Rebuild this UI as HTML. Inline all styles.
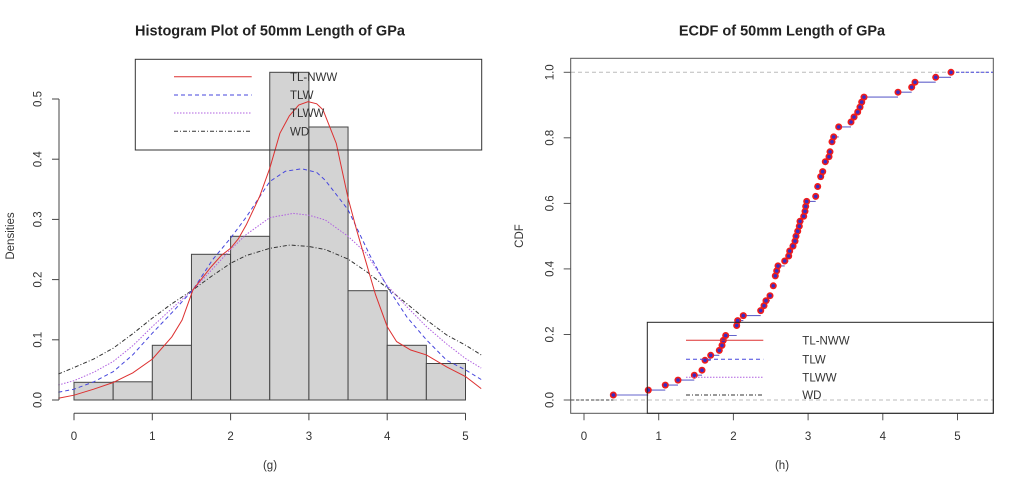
<!DOCTYPE html>
<html><head><meta charset="utf-8"><style>
html,body{margin:0;padding:0;background:#fff;}
svg{display:block;font-family:"Liberation Sans",sans-serif;}
</style></head><body>
<svg width="1024" height="487" viewBox="0 0 1024 487" xmlns="http://www.w3.org/2000/svg">
<rect width="1024" height="487" fill="#fff"/>
<!-- ========== LEFT PLOT ========== -->
<text x="270" y="35.5" font-size="14.5" font-weight="bold" text-anchor="middle" fill="#222">Histogram Plot of 50mm Length of GPa</text>
<!-- bars -->
<g fill="#d3d3d3" stroke="#444" stroke-width="1">
<rect x="74" y="382.3" width="39.15" height="17.7"/>
<rect x="113.15" y="381.8" width="39.15" height="18.2"/>
<rect x="152.3" y="345.3" width="39.15" height="54.7"/>
<rect x="191.45" y="254.3" width="39.15" height="145.7"/>
<rect x="230.6" y="236.3" width="39.15" height="163.7"/>
<rect x="269.75" y="72.3" width="39.15" height="327.7"/>
<rect x="308.9" y="127" width="39.15" height="273"/>
<rect x="348.05" y="290.7" width="39.15" height="109.3"/>
<rect x="387.2" y="345.3" width="39.15" height="54.7"/>
<rect x="426.35" y="363.5" width="39.15" height="36.5"/>
</g>
<!-- curves -->
<polyline fill="none" stroke="#333" stroke-width="1" stroke-dasharray="4 2 1 2" points="58.3,374.1 74,367.5 93.6,359.1 113.2,348.2 132.7,333.8 152.3,318.1 171.9,303.7 193,289.8 211,276.6 230.6,263.3 246.3,255.5 269.8,248.3 290.1,245 308.9,246.5 325.3,249.5 348.1,259.1 367.6,272.4 387.2,288 406.8,303.7 426.4,319.9 446.7,335 465.5,345.2 481.2,354.9"/>
<polyline fill="none" stroke="#b060e0" stroke-width="1" stroke-dasharray="1.5 1.5" points="58.3,385 74,380.7 93.6,372.3 113.2,361.5 132.7,345.8 152.3,326.6 171.9,308.5 193,289.8 211,270.6 230.6,249.5 246.3,234.5 269.8,217.6 293.2,213.4 308.9,215.2 325.3,220 348.1,236.3 366.1,253.1 387.2,285.6 406.8,306.7 426.4,326.6 446.7,344 465.5,358.5 481.2,368.1"/>
<polyline fill="none" stroke="#4646dd" stroke-width="1" stroke-dasharray="4 3" points="58.3,392.3 74,389.2 93.6,381.9 113.2,371.7 132.7,354.9 152.3,333.2 171.9,312.7 193,289.8 212.6,259.7 230.6,238.1 246.3,217 269.8,181.5 285.4,171.2 301.9,168.8 316.7,172.4 325.3,180.3 348.1,209.8 370,255.5 387.2,286.8 406.8,316.9 426.4,339.8 446.7,360.3 465.5,369.9 481.2,379.5"/>
<polyline fill="none" stroke="#dd3030" stroke-width="1" points="58.3,398.2 74,395.2 93.6,389.2 113.2,382.5 132.7,372.9 152.3,359.1 171.9,336.8 182.1,320 193,289.8 211,267 221.2,255.5 230.6,248.3 238.4,238.7 246.3,224.8 259.6,196.5 269.8,168.2 279.9,133.3 289.3,115.9 298.7,105 308.1,101.7 316.7,103.8 323,109.8 336.3,143.5 348.1,198.3 356.7,230.2 365.3,259.7 375.5,294.6 387.2,326.6 396.6,341.6 410.7,350 426.4,354.9 446.7,366.9 465.5,376.5 481.2,388.6"/>
<!-- axes -->
<g stroke="#444" stroke-width="1" fill="none">
<line x1="59" y1="99" x2="59" y2="400"/>
<line x1="52" y1="400" x2="59" y2="400"/>
<line x1="52" y1="339.8" x2="59" y2="339.8"/>
<line x1="52" y1="279.6" x2="59" y2="279.6"/>
<line x1="52" y1="219.4" x2="59" y2="219.4"/>
<line x1="52" y1="159.2" x2="59" y2="159.2"/>
<line x1="52" y1="99" x2="59" y2="99"/>
<line x1="74" y1="413.3" x2="465.5" y2="413.3"/>
<line x1="74" y1="413.3" x2="74" y2="420.3"/>
<line x1="152.3" y1="413.3" x2="152.3" y2="420.3"/>
<line x1="230.6" y1="413.3" x2="230.6" y2="420.3"/>
<line x1="308.9" y1="413.3" x2="308.9" y2="420.3"/>
<line x1="387.2" y1="413.3" x2="387.2" y2="420.3"/>
<line x1="465.5" y1="413.3" x2="465.5" y2="420.3"/>
</g>
<g font-size="11.5" fill="#333" text-anchor="middle">
<text x="74" y="440">0</text>
<text x="152.3" y="440">1</text>
<text x="230.6" y="440">2</text>
<text x="308.9" y="440">3</text>
<text x="387.2" y="440">4</text>
<text x="465.5" y="440">5</text>
<text transform="translate(41.5,400) rotate(-90)">0.0</text>
<text transform="translate(41.5,339.8) rotate(-90)">0.1</text>
<text transform="translate(41.5,279.6) rotate(-90)">0.2</text>
<text transform="translate(41.5,219.4) rotate(-90)">0.3</text>
<text transform="translate(41.5,159.2) rotate(-90)">0.4</text>
<text transform="translate(41.5,99) rotate(-90)">0.5</text>
<text x="270" y="469">(g)</text>
<text transform="translate(14,236) rotate(-90)">Densities</text>
</g>
<!-- legend left -->
<rect x="135.3" y="59.3" width="346.4" height="90.7" fill="none" stroke="#333" stroke-width="1"/>
<line x1="174" y1="76.7" x2="251.7" y2="76.7" stroke="#dd3030" stroke-width="1"/>
<line x1="174" y1="95" x2="251.7" y2="95" stroke="#4646dd" stroke-width="1" stroke-dasharray="4 3"/>
<line x1="174" y1="113" x2="251.7" y2="113" stroke="#b060e0" stroke-width="1" stroke-dasharray="1.5 1.5"/>
<line x1="174" y1="131.3" x2="251.7" y2="131.3" stroke="#333" stroke-width="1" stroke-dasharray="4 2 1 2"/>
<g font-size="11.5" fill="#333">
<text x="290" y="80.8">TL-NWW</text>
<text x="290" y="99.1">TLW</text>
<text x="290" y="117.1">TLWW</text>
<text x="290" y="135.4">WD</text>
</g>

<!-- ========== RIGHT PLOT ========== -->
<text x="782" y="35.5" font-size="14.5" font-weight="bold" text-anchor="middle" fill="#222">ECDF of 50mm Length of GPa</text>
<!-- reference lines -->
<line x1="571" y1="400" x2="993" y2="400" stroke="#bbb" stroke-width="1" stroke-dasharray="4 3"/>
<line x1="571" y1="72.3" x2="993" y2="72.3" stroke="#bbb" stroke-width="1" stroke-dasharray="4 3"/>
<line x1="571" y1="400" x2="613.3" y2="400" stroke="#444" stroke-width="1" stroke-dasharray="3 2"/>
<line x1="951" y1="72.3" x2="993" y2="72.3" stroke="#4646dd" stroke-width="1" stroke-dasharray="3 2"/>
<path fill="none" stroke="#6464cc" stroke-width="1.1" d="M613.3 395 H648.3 M648.3 390.1 H665.3 M665.3 385.1 H678 M678 380.1 H694.3 M694.3 375.2 H702 M702 370.2 H705 M705 360.3 H710.7 M710.7 355.3 H719.3 M719.3 350.4 H722 M722 345.4 H723.3 M723.3 340.4 H725.7 M725.7 335.5 H736.7 M736.7 325.5 H737.7 M737.7 320.6 H743.3 M743.3 315.6 H760.7 M760.7 310.6 H764 M764 305.7 H766 M766 300.7 H770 M770 295.7 H773.3 M773.3 285.8 H775.3 M775.3 275.9 H776.7 M776.7 270.9 H778 M778 265.9 H784.7 M784.7 261 H788.7 M788.7 256 H789.7 M789.7 251 H793 M793 246.1 H795 M795 241.1 H796 M796 236.2 H797.7 M797.7 231.2 H799.3 M799.3 226.2 H800 M800 221.3 H803.7 M803.7 216.3 H805 M805 211.3 H805.7 M805.7 206.4 H806.7 M806.7 201.4 H815.7 M815.7 196.4 H817.7 M817.7 186.5 H820.7 M820.7 176.6 H822.7 M822.7 171.6 H825.3 M825.3 161.7 H829 M829 156.7 H830 M830 151.8 H832 M832 141.8 H833.7 M833.7 136.9 H838.7 M838.7 126.9 H851 M851 122 H854 M854 117 H857.7 M857.7 112 H860 M860 107.1 H861.7 M861.7 102.1 H864 M864 97.1 H898 M898 92.2 H911.7 M911.7 87.2 H915 M915 82.2 H935.7 M935.7 77.3 H951"/>
<g fill="#ee1c1c">
<circle cx="613.3" cy="395" r="3.5"/><circle cx="648.3" cy="390.1" r="3.5"/><circle cx="665.3" cy="385.1" r="3.5"/><circle cx="678" cy="380.1" r="3.5"/><circle cx="694.3" cy="375.2" r="3.5"/><circle cx="702" cy="370.2" r="3.5"/><circle cx="705" cy="360.3" r="3.5"/><circle cx="710.7" cy="355.3" r="3.5"/><circle cx="719.3" cy="350.4" r="3.5"/><circle cx="722" cy="345.4" r="3.5"/><circle cx="723.3" cy="340.4" r="3.5"/><circle cx="725.7" cy="335.5" r="3.5"/><circle cx="736.7" cy="325.5" r="3.5"/><circle cx="737.7" cy="320.6" r="3.5"/><circle cx="743.3" cy="315.6" r="3.5"/><circle cx="760.7" cy="310.6" r="3.5"/><circle cx="764" cy="305.7" r="3.5"/><circle cx="766" cy="300.7" r="3.5"/><circle cx="770" cy="295.7" r="3.5"/><circle cx="773.3" cy="285.8" r="3.5"/><circle cx="775.3" cy="275.9" r="3.5"/><circle cx="776.7" cy="270.9" r="3.5"/><circle cx="778" cy="265.9" r="3.5"/><circle cx="784.7" cy="261" r="3.5"/><circle cx="788.7" cy="256" r="3.5"/><circle cx="789.7" cy="251" r="3.5"/><circle cx="793" cy="246.1" r="3.5"/><circle cx="795" cy="241.1" r="3.5"/><circle cx="796" cy="236.2" r="3.5"/><circle cx="797.7" cy="231.2" r="3.5"/><circle cx="799.3" cy="226.2" r="3.5"/><circle cx="800" cy="221.3" r="3.5"/><circle cx="803.7" cy="216.3" r="3.5"/><circle cx="805" cy="211.3" r="3.5"/><circle cx="805.7" cy="206.4" r="3.5"/><circle cx="806.7" cy="201.4" r="3.5"/><circle cx="815.7" cy="196.4" r="3.5"/><circle cx="817.7" cy="186.5" r="3.5"/><circle cx="820.7" cy="176.6" r="3.5"/><circle cx="822.7" cy="171.6" r="3.5"/><circle cx="825.3" cy="161.7" r="3.5"/><circle cx="829" cy="156.7" r="3.5"/><circle cx="830" cy="151.8" r="3.5"/><circle cx="832" cy="141.8" r="3.5"/><circle cx="833.7" cy="136.9" r="3.5"/><circle cx="838.7" cy="126.9" r="3.5"/><circle cx="851" cy="122" r="3.5"/><circle cx="854" cy="117" r="3.5"/><circle cx="857.7" cy="112" r="3.5"/><circle cx="860" cy="107.1" r="3.5"/><circle cx="861.7" cy="102.1" r="3.5"/><circle cx="864" cy="97.1" r="3.5"/><circle cx="898" cy="92.2" r="3.5"/><circle cx="911.7" cy="87.2" r="3.5"/><circle cx="915" cy="82.2" r="3.5"/><circle cx="935.7" cy="77.3" r="3.5"/><circle cx="951" cy="72.3" r="3.5"/>
</g>
<g fill="#3a2cc4">
<circle cx="613.3" cy="395" r="1.8"/><circle cx="648.3" cy="390.1" r="1.8"/><circle cx="665.3" cy="385.1" r="1.8"/><circle cx="678" cy="380.1" r="1.8"/><circle cx="694.3" cy="375.2" r="1.8"/><circle cx="702" cy="370.2" r="1.8"/><circle cx="705" cy="360.3" r="1.8"/><circle cx="710.7" cy="355.3" r="1.8"/><circle cx="719.3" cy="350.4" r="1.8"/><circle cx="722" cy="345.4" r="1.8"/><circle cx="723.3" cy="340.4" r="1.8"/><circle cx="725.7" cy="335.5" r="1.8"/><circle cx="736.7" cy="325.5" r="1.8"/><circle cx="737.7" cy="320.6" r="1.8"/><circle cx="743.3" cy="315.6" r="1.8"/><circle cx="760.7" cy="310.6" r="1.8"/><circle cx="764" cy="305.7" r="1.8"/><circle cx="766" cy="300.7" r="1.8"/><circle cx="770" cy="295.7" r="1.8"/><circle cx="773.3" cy="285.8" r="1.8"/><circle cx="775.3" cy="275.9" r="1.8"/><circle cx="776.7" cy="270.9" r="1.8"/><circle cx="778" cy="265.9" r="1.8"/><circle cx="784.7" cy="261" r="1.8"/><circle cx="788.7" cy="256" r="1.8"/><circle cx="789.7" cy="251" r="1.8"/><circle cx="793" cy="246.1" r="1.8"/><circle cx="795" cy="241.1" r="1.8"/><circle cx="796" cy="236.2" r="1.8"/><circle cx="797.7" cy="231.2" r="1.8"/><circle cx="799.3" cy="226.2" r="1.8"/><circle cx="800" cy="221.3" r="1.8"/><circle cx="803.7" cy="216.3" r="1.8"/><circle cx="805" cy="211.3" r="1.8"/><circle cx="805.7" cy="206.4" r="1.8"/><circle cx="806.7" cy="201.4" r="1.8"/><circle cx="815.7" cy="196.4" r="1.8"/><circle cx="817.7" cy="186.5" r="1.8"/><circle cx="820.7" cy="176.6" r="1.8"/><circle cx="822.7" cy="171.6" r="1.8"/><circle cx="825.3" cy="161.7" r="1.8"/><circle cx="829" cy="156.7" r="1.8"/><circle cx="830" cy="151.8" r="1.8"/><circle cx="832" cy="141.8" r="1.8"/><circle cx="833.7" cy="136.9" r="1.8"/><circle cx="838.7" cy="126.9" r="1.8"/><circle cx="851" cy="122" r="1.8"/><circle cx="854" cy="117" r="1.8"/><circle cx="857.7" cy="112" r="1.8"/><circle cx="860" cy="107.1" r="1.8"/><circle cx="861.7" cy="102.1" r="1.8"/><circle cx="864" cy="97.1" r="1.8"/><circle cx="898" cy="92.2" r="1.8"/><circle cx="911.7" cy="87.2" r="1.8"/><circle cx="915" cy="82.2" r="1.8"/><circle cx="935.7" cy="77.3" r="1.8"/><circle cx="951" cy="72.3" r="1.8"/>
</g>
<!-- box & ticks -->
<rect x="570.7" y="58.3" width="422.6" height="355" fill="none" stroke="#555" stroke-width="1"/>
<g stroke="#555" stroke-width="1">
<line x1="563.7" y1="400" x2="570.7" y2="400"/>
<line x1="563.7" y1="334.5" x2="570.7" y2="334.5"/>
<line x1="563.7" y1="268.9" x2="570.7" y2="268.9"/>
<line x1="563.7" y1="203.4" x2="570.7" y2="203.4"/>
<line x1="563.7" y1="137.8" x2="570.7" y2="137.8"/>
<line x1="563.7" y1="72.3" x2="570.7" y2="72.3"/>
<line x1="584" y1="413.3" x2="584" y2="420.3"/>
<line x1="658.7" y1="413.3" x2="658.7" y2="420.3"/>
<line x1="733.4" y1="413.3" x2="733.4" y2="420.3"/>
<line x1="808.1" y1="413.3" x2="808.1" y2="420.3"/>
<line x1="882.8" y1="413.3" x2="882.8" y2="420.3"/>
<line x1="957.5" y1="413.3" x2="957.5" y2="420.3"/>
</g>
<g font-size="11.5" fill="#333" text-anchor="middle">
<text x="584" y="440">0</text>
<text x="658.7" y="440">1</text>
<text x="733.4" y="440">2</text>
<text x="808.1" y="440">3</text>
<text x="882.8" y="440">4</text>
<text x="957.5" y="440">5</text>
<text transform="translate(553.7,400) rotate(-90)">0.0</text>
<text transform="translate(553.7,334.5) rotate(-90)">0.2</text>
<text transform="translate(553.7,268.9) rotate(-90)">0.4</text>
<text transform="translate(553.7,203.4) rotate(-90)">0.6</text>
<text transform="translate(553.7,137.8) rotate(-90)">0.8</text>
<text transform="translate(553.7,72.3) rotate(-90)">1.0</text>
<text x="782" y="469">(h)</text>
<text transform="translate(523,236) rotate(-90)">CDF</text>
</g>
<!-- legend right -->
<rect x="647.3" y="322.3" width="346" height="91" fill="none" stroke="#222" stroke-width="1"/>
<line x1="686" y1="340.3" x2="763.3" y2="340.3" stroke="#dd3030" stroke-width="1"/>
<line x1="686" y1="359.3" x2="763.3" y2="359.3" stroke="#4646dd" stroke-width="1" stroke-dasharray="4 3"/>
<line x1="686" y1="377.3" x2="763.3" y2="377.3" stroke="#b060e0" stroke-width="1" stroke-dasharray="1.5 1.5"/>
<line x1="686" y1="395" x2="763.3" y2="395" stroke="#333" stroke-width="1" stroke-dasharray="4 2 1 2"/>
<g font-size="11.5" fill="#333">
<text x="802.3" y="344.4">TL-NWW</text>
<text x="802.3" y="363.4">TLW</text>
<text x="802.3" y="381.4">TLWW</text>
<text x="802.3" y="399.1">WD</text>
</g>
</svg>
</body></html>
